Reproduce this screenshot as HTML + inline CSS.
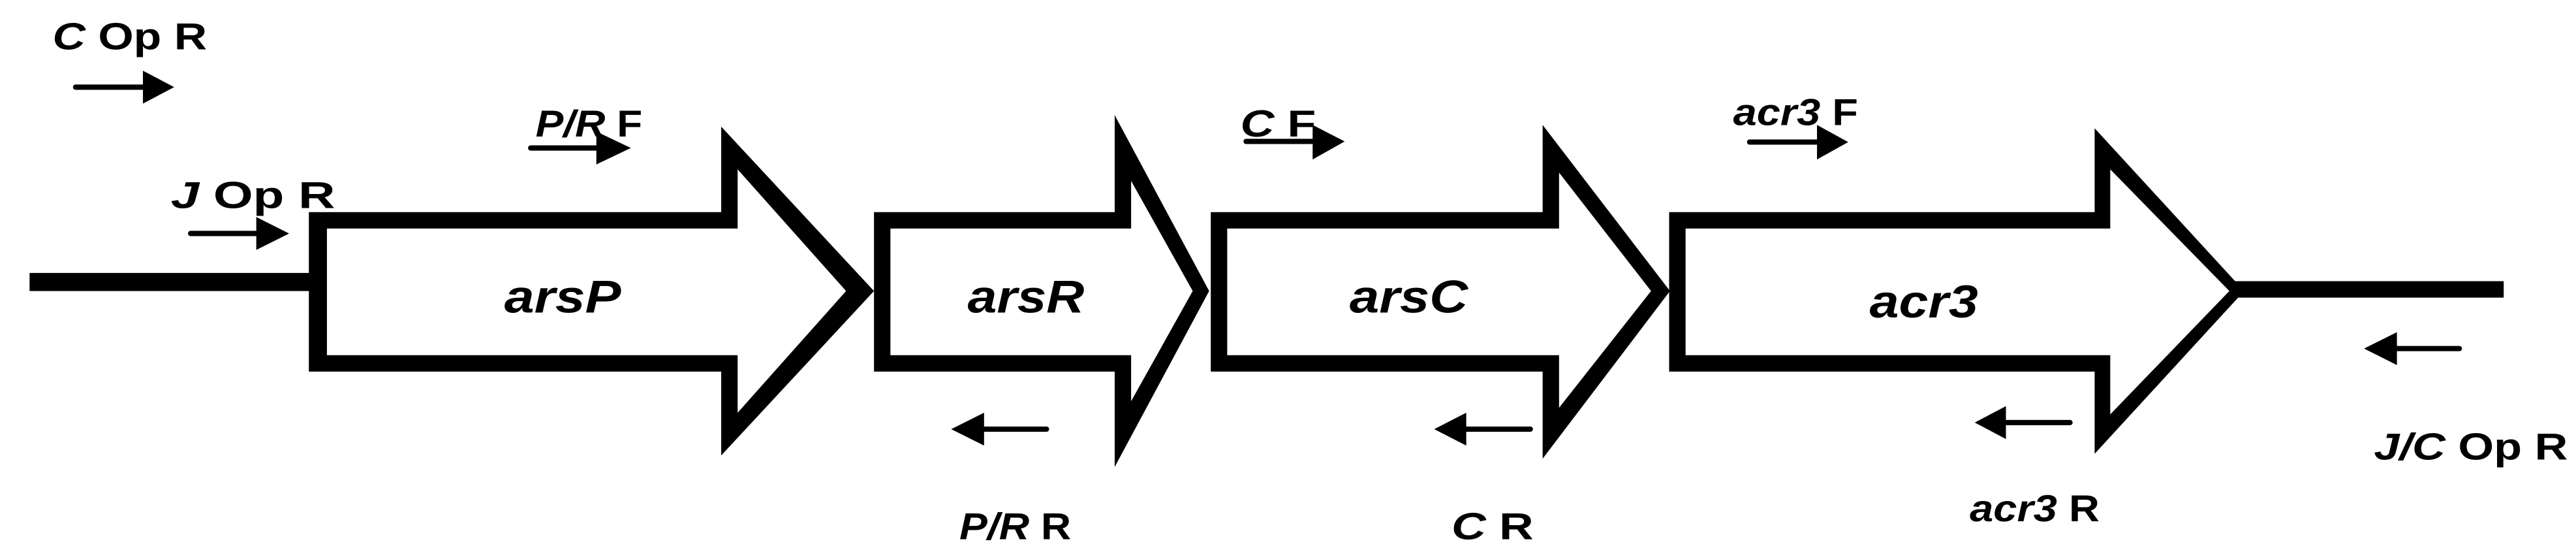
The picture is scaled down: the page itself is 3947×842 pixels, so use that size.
<!DOCTYPE html>
<html><head><meta charset="utf-8"><style>html,body{margin:0;padding:0;background:#fff}svg{display:block}</style></head>
<body>
<svg width="3947" height="842" viewBox="0 0 1568 334.5" preserveAspectRatio="none" xmlns="http://www.w3.org/2000/svg" font-family="Liberation Sans, Arial, sans-serif" font-weight="bold">
<rect width="1568" height="334.5" fill="#fff"/>
<!-- backbone lines -->
<rect x="18" y="166" width="172" height="11" fill="#000"/>
<rect x="1360" y="171" width="164" height="10" fill="#000"/>
<!-- arsP -->
<polygon points="188,129 439,129 439,77 532,177 439,277 439,226 188,226" fill="#000"/>
<polygon points="199,139 449,139 449,103 515,177 449,251 449,216 199,216" fill="#fff"/>
<!-- arsR -->
<polygon points="532,129 678.5,129 678.5,70 736,177 678.5,284 678.5,226 532,226" fill="#000"/>
<polygon points="542,139 688.5,139 688.5,110 726,177 688.5,244 688.5,216 542,216" fill="#fff"/>
<!-- arsC -->
<polygon points="737,129 939,129 939,76 1016.5,177 939,279 939,226 737,226" fill="#000"/>
<polygon points="747,139 949,139 949,105 1005,177 949,248 949,216 747,216" fill="#fff"/>
<!-- acr3 -->
<polygon points="1016,129 1275,129 1275,78 1366,177 1275,276 1275,226 1016,226" fill="#000"/>
<polygon points="1026,139 1284.5,139 1284.5,103 1357,177 1284.5,252 1284.5,216 1026,216" fill="#fff"/>
<!-- primer arrows -->
<g stroke="#000" stroke-width="3.2" stroke-linecap="round">
<line x1="46" y1="53" x2="88" y2="53"/>
<line x1="116" y1="142" x2="157" y2="142"/>
<line x1="323" y1="90" x2="364" y2="90"/>
<line x1="758.5" y1="86" x2="800" y2="86"/>
<line x1="1065" y1="86.4" x2="1107" y2="86.4"/>
<line x1="598" y1="261" x2="637" y2="261"/>
<line x1="891" y1="261" x2="931.5" y2="261"/>
<line x1="1220" y1="257" x2="1260" y2="257"/>
<line x1="1458" y1="212" x2="1497" y2="212"/>
</g>
<g fill="#000">
<polygon points="87,43 106,53 87,63"/>
<polygon points="156,132 176,142 156,152"/>
<polygon points="363,80 384,90 363,100"/>
<polygon points="799,76 818.5,86 799,97"/>
<polygon points="1106,76 1125,86.4 1106,97"/>
<polygon points="599,251 579,261 599,271"/>
<polygon points="892.5,251 873,261 892.5,271"/>
<polygon points="1221,247 1202,257 1221,267"/>
<polygon points="1459,202 1439,212 1459,222"/>
</g>
<!-- gene labels -->
<g font-size="28" font-style="italic">
<text x="307" y="190" textLength="71" lengthAdjust="spacingAndGlyphs">arsP</text>
<text x="589" y="190" textLength="71" lengthAdjust="spacingAndGlyphs">arsR</text>
<text x="821.5" y="190" textLength="72" lengthAdjust="spacingAndGlyphs">arsC</text>
<text x="1138" y="193" textLength="66" lengthAdjust="spacingAndGlyphs">acr3</text>
</g>
<!-- primer labels -->
<g font-size="23">
<text x="32" y="30" textLength="94" lengthAdjust="spacingAndGlyphs"><tspan font-style="italic">C</tspan> Op  R</text>
<text x="104" y="126.5" textLength="100" lengthAdjust="spacingAndGlyphs"><tspan font-style="italic">J</tspan>  Op  R</text>
<text x="326" y="83" textLength="65" lengthAdjust="spacingAndGlyphs"><tspan font-style="italic">P/R</tspan> F</text>
<text x="755" y="83" textLength="46" lengthAdjust="spacingAndGlyphs"><tspan font-style="italic">C</tspan>  F</text>
<text x="1055" y="76" textLength="76" lengthAdjust="spacingAndGlyphs"><tspan font-style="italic">acr3</tspan> F</text>
<text x="584" y="328" textLength="68" lengthAdjust="spacingAndGlyphs"><tspan font-style="italic">P/R</tspan> R</text>
<text x="883.5" y="328" textLength="50" lengthAdjust="spacingAndGlyphs"><tspan font-style="italic">C</tspan>  R</text>
<text x="1199" y="317" textLength="79" lengthAdjust="spacingAndGlyphs"><tspan font-style="italic">acr3</tspan> R</text>
<text x="1445" y="279.5" textLength="118" lengthAdjust="spacingAndGlyphs"><tspan font-style="italic">J/C</tspan> Op  R</text>
</g>
</svg>
</body></html>
